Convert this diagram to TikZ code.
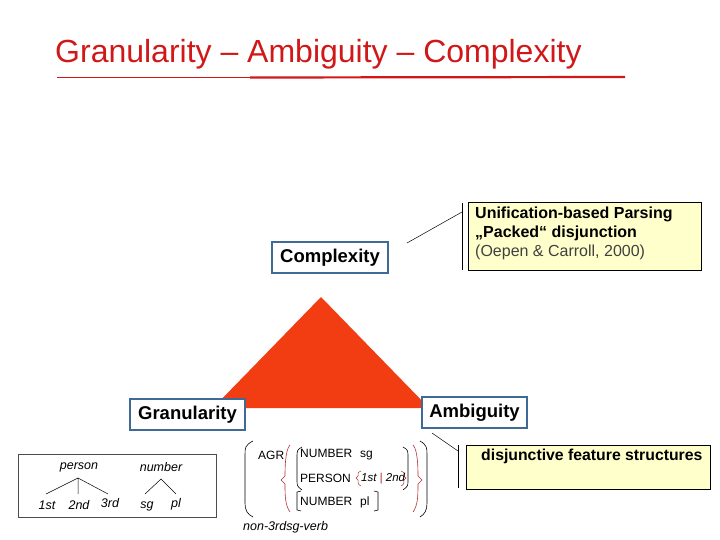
\documentclass[tikz,border=0pt]{standalone}
\usepackage{fontspec}
\setmainfont{Liberation Sans}
\definecolor{tred}{HTML}{D01818}
\definecolor{tri}{HTML}{F23C12}
\definecolor{bbl}{HTML}{3F6A95}
\definecolor{yel}{HTML}{FFFFCC}
\definecolor{avr}{HTML}{B03030}
\begin{document}
\begin{tikzpicture}[x=1pt,y=-1pt,
  lbl/.style={draw=bbl,line width=2.2pt,fill=white,font=\bfseries\fontsize{18.5}{22}\selectfont,inner sep=0pt,anchor=center},
  note/.style={draw=black,line width=0.6pt,fill=yel,anchor=north west,inner sep=0pt},
  tx/.style={font=\itshape\fontsize{12.5}{15}\selectfont,inner sep=0pt},
  av/.style={font=\fontsize{12}{15}\selectfont,inner sep=0pt,anchor=west}]
\useasboundingbox (0,0) rectangle (720,540);
\node[text=tred,font=\fontsize{32}{36}\selectfont,anchor=base west,inner sep=0pt] (title) at (55,63) {Granularity – Ambiguity – Complexity};
\draw[tred,line width=1.6pt] (57,77.5) coordinate (u1) -- (250,77.5) coordinate (um);
\draw[tred,line width=2.2pt] (um) -- (625,77) coordinate (u2);
% triangle
\fill[tri] (321,297) -- (429,408) -- (213,408) -- cycle;
% label boxes
\node[lbl,minimum width=116pt,minimum height=31pt] (cx) at (330,257.5) {Complexity};
\node[lbl,minimum width=115pt,minimum height=31pt] (gr) at (187.5,414.5) {Granularity};
\node[lbl,minimum width=105pt,minimum height=31pt] (am) at (474.5,412.5) {Ambiguity};
% notes
\node[note,minimum width=233pt,minimum height=68pt] (n1) at (468,202) {};
\node[anchor=north west,inner sep=0pt,font=\fontsize{16}{19}\selectfont,align=left] (n1t) at (475,207) {\textbf{Unification-based Parsing}\\\textbf{„Packed“ disjunction}\\\color{black!75}(Oepen \& Carroll, 2000)};
\coordinate (v1a) at (462,203); \coordinate (v1b) at (462,270);
\draw[line width=0.5pt] (v1a) -- (v1b);
\draw[line width=0.5pt] (407,243) -- (v1a|-0,212);
\node[note,minimum width=244pt,minimum height=44pt] (n2) at (466,445) {};
\node[anchor=north west,inner sep=0pt,font=\bfseries\fontsize{15.8}{18}\selectfont] (n2t) at (481,449) {disjunctive feature structures};
\coordinate (v2a) at (458,445); \coordinate (v2b) at (458,488);
\draw[line width=0.5pt] (v2a) -- (v2b);
\draw[line width=0.5pt] (432,433) -- (458,451);
% tree
\draw[black!70,line width=0.5pt] (18,454) rectangle (216,517);
\node[tx] (p) at (79,467) {person};
\node[tx] (p1) at (47,505) {1st};
\node[tx] (p2) at (79,505) {2nd};
\node[tx] (p3) at (110,503) {3rd};
\node[tx] (nm) at (161,467) {number};
\node[tx] (s) at (147,506) {sg};
\node[tx] (pl) at (176,504) {pl};
\coordinate (pt) at (78,478); \coordinate (nt) at (161,479);
\draw[line width=0.5pt] (46,494) -- (pt) -- (108,494) (pt) -- (78,494);
\draw[line width=0.5pt] (145,494) -- (nt) -- (176,494);
% AVM
\draw[line width=0.6pt] (253,441) .. controls (245,445) and (245,448) .. (245,455) -- (245,503) .. controls (245,510) and (247,514) .. (253,517);
\draw[line width=0.6pt] (420,441) .. controls (427,445) and (427,448) .. (427,455) -- (427,503) .. controls (427,510) and (425,514) .. (420,517);
\node[av] (agr) at (258,455) {AGR};
\draw[avr,line width=0.6pt] (290,445) .. controls (285,450) and (285,470) .. (285,476) -- (281,480) -- (285,484) .. controls (285,495) and (285,505) .. (290,512);
\draw[avr,line width=0.6pt] (413,445) .. controls (418,450) and (418,470) .. (418,476) -- (422,480) -- (418,484) .. controls (418,495) and (418,505) .. (413,512);
\draw[line width=0.6pt] (302,447) .. controls (297,450) .. (297,458) -- (297,480) .. controls (297,486) .. (302,490);
\draw[line width=0.6pt] (403,447) .. controls (408,450) .. (408,458) -- (408,480) .. controls (408,486) .. (403,490);
\node[av] (num1) at (300,455) {NUMBER\hspace{8pt}sg};
\node[av] (per) at (300,478) {PERSON};
\draw[avr,line width=0.5pt] (361,471) .. controls (358,472) .. (358,476) -- (356,478) -- (358,480) .. controls (358,484) .. (361,486);
\draw[avr,line width=0.5pt] (401,471) .. controls (404,472) .. (404,476) -- (406,478) -- (404,480) .. controls (404,484) .. (401,486);
\node[av,font=\itshape\fontsize{11.5}{13}\selectfont] (vals) at (361,479) {1st {\color{avr}|} 2nd};
\draw[line width=0.6pt] (301,491) -- (297,492) -- (297,510) -- (301,511);
\draw[line width=0.6pt] (374,491) -- (378,492) -- (378,510) -- (374,511);
\node[av] (num2) at (300,502) {NUMBER\hspace{8pt}pl};
\node[tx,anchor=west] (typ) at (243,527) {non-3rdsg-verb};
\end{tikzpicture}
\end{document}
